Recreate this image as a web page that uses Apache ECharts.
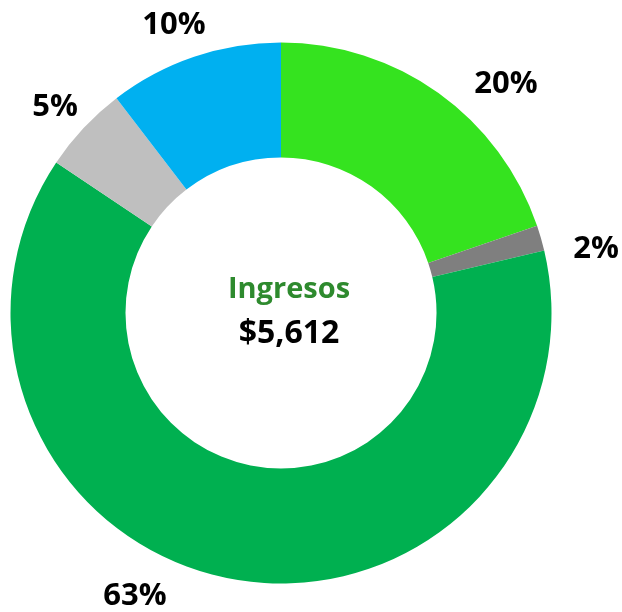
<!DOCTYPE html>
<html><head><meta charset="utf-8">
<script src="https://cdn.jsdelivr.net/npm/echarts@6/dist/echarts.min.js"></script>
<style>html,body{margin:0;padding:0;background:#fff}#c{width:622px;height:612px}</style>
</head><body><div id="c"></div>
<script>
const categories = ['A', 'B', 'C', 'D', 'E'];
const values = [1110, 85, 3541, 292, 584];
const colors = ['#35E31F', '#7F7F7F', '#00B050', '#BFBFBF', '#00B0F0'];
const centerTitle = 'Ingresos';
const centerValue = '$5,612';
const labelPos = [[506, 84], [596, 249], [135, 596], [55, 107], [174, 25]];

const chart = echarts.init(document.getElementById('c'), null, {renderer: 'canvas'});
chart.setOption({
  animation: false,
  title: {
    text: centerTitle + '\n{v|' + centerValue + '}',
    left: 284, top: 263, textAlign: 'center',
    textStyle: {
      fontFamily: 'Open Sans', fontWeight: 'bold', fontSize: 29, color: '#2E8A2E', lineHeight: 44,
      rich: { v: { fontFamily: 'Open Sans', fontWeight: 'bold', fontSize: 32, color: '#000', lineHeight: 44 } }
    }
  },
  series: [{
    type: 'pie',
    center: [281, 313],
    radius: [155.5, 270.5],
    startAngle: 90,
    clockwise: true,
    avoidLabelOverlap: false,
    data: categories.map((c, i) => ({ name: c, value: values[i], itemStyle: { color: colors[i] } })),
    itemStyle: { borderWidth: 0 },
    label: {
      show: true, position: 'outside',
      formatter: p => Math.round(p.percent) + '%',
      fontFamily: 'Open Sans', fontWeight: 'bold', fontSize: 31, color: '#000'
    },
    labelLine: { show: false },
    labelLayout: p => ({ x: labelPos[p.dataIndex][0], y: labelPos[p.dataIndex][1], align: 'center', verticalAlign: 'middle' }),
    emphasis: { disabled: true }
  }]
});
</script></body></html>
